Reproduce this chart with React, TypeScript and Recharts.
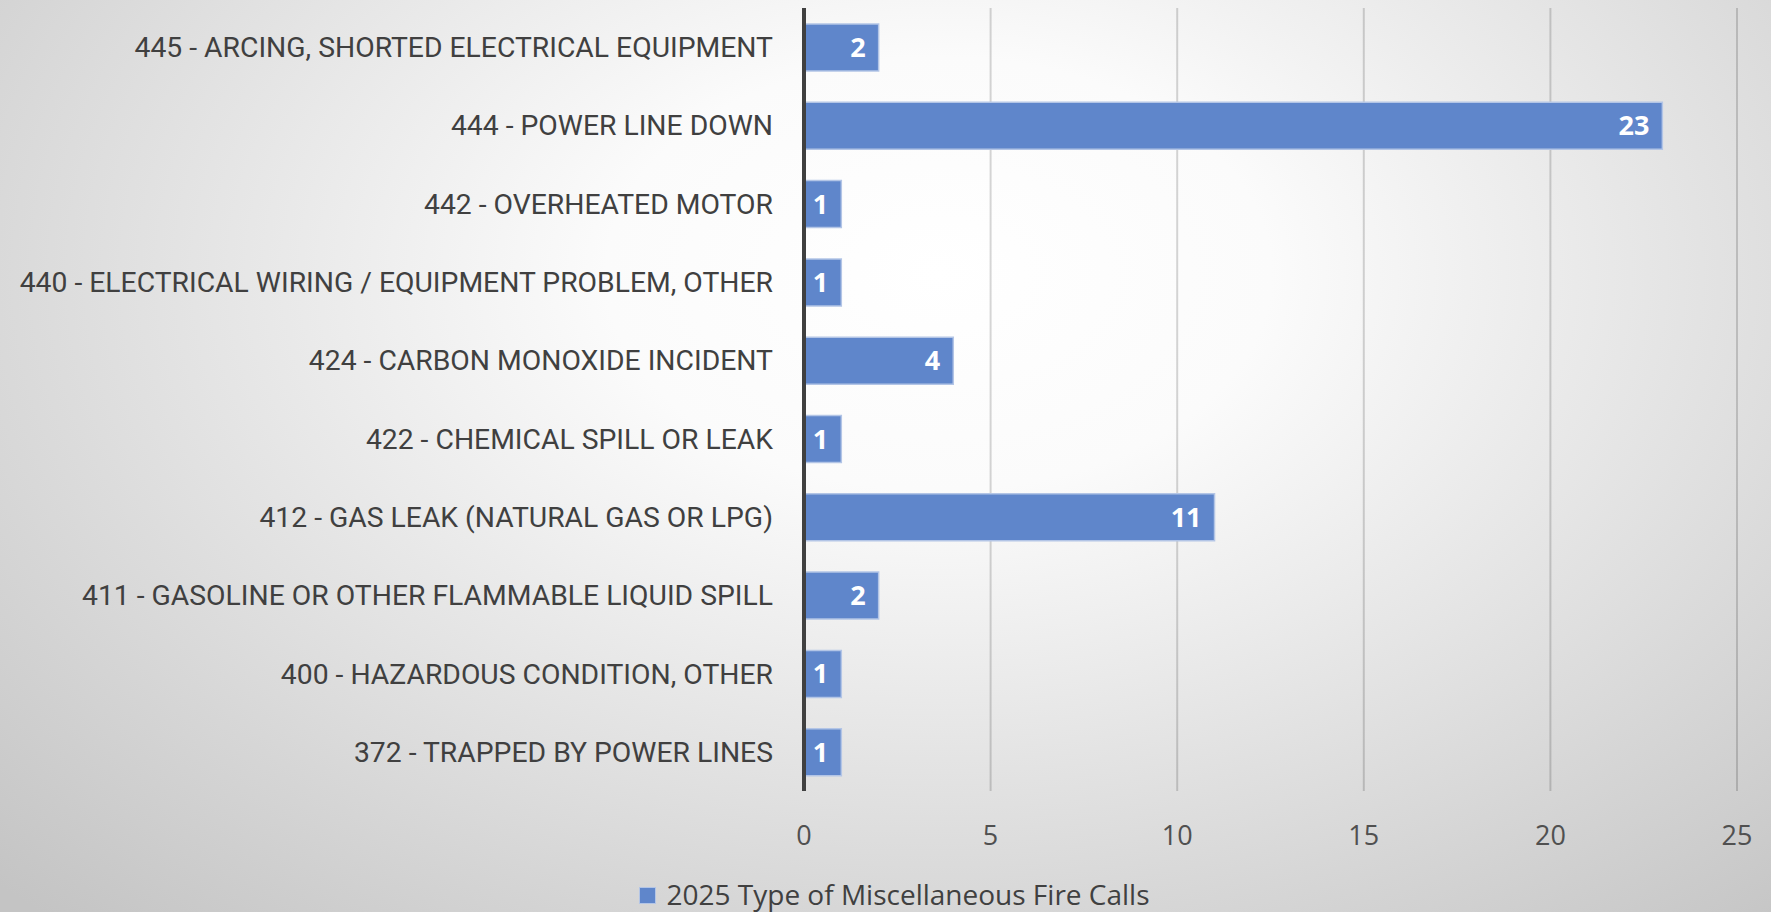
import { BarChart, Bar, XAxis, YAxis, CartesianGrid, LabelList, Legend } from "recharts";

// categories, top to bottom as shown
const CATEGORIES = [
  "445 - ARCING, SHORTED ELECTRICAL EQUIPMENT",
  "444 - POWER LINE DOWN",
  "442 - OVERHEATED MOTOR",
  "440 - ELECTRICAL WIRING / EQUIPMENT PROBLEM, OTHER",
  "424 - CARBON MONOXIDE INCIDENT",
  "422 - CHEMICAL SPILL OR LEAK",
  "412 - GAS LEAK (NATURAL GAS OR LPG)",
  "411 - GASOLINE OR OTHER FLAMMABLE LIQUID SPILL",
  "400 - HAZARDOUS CONDITION, OTHER",
  "372 - TRAPPED BY POWER LINES",
];
const CALLS = [2, 23, 1, 1, 4, 1, 11, 2, 1, 1];
const X_TICKS = [0, 5, 10, 15, 20, 25];
const SERIES_NAME = "2025 Type of Miscellaneous Fire Calls";

const C = {
  bar: "#5f86cb",
  barEdge: "#b3c5e6",
  text: "#404040",
  tick: "#505050",
  grid: "rgba(0,0,0,0.16)",
  axis: "#404040",
};

const W = 1771;
const H = 912;

const data = CATEGORIES.map((name, i) => ({ name, calls: CALLS[i] }));

function LegendBox() {
  return (
    <div
      style={{
        height: 40,
        boxSizing: "border-box",
        paddingTop: 6,
        paddingLeft: 52,
        display: "flex",
        justifyContent: "center",
        alignItems: "center",
        fontFamily: "'Open Sans', sans-serif",
        fontSize: 28,
        lineHeight: 1.2,
        color: C.text,
      }}
    >
      <span style={{ width: 15, height: 15, background: C.bar, border: `1px solid ${C.barEdge}`, marginRight: 10 }} />
      <span>{SERIES_NAME}</span>
    </div>
  );
}

export default function App() {
  return (
    <div
      style={{
        position: "absolute",
        left: 0,
        top: 0,
        width: W,
        height: H,
        overflow: "hidden",
        background:
          "radial-gradient(ellipse 75% 95% at 53% 30%, #ffffff 0%, #fbfbfb 25%, #d6d6d6 75%, #c4c4c4 100%)",
      }}
    >
      <BarChart
        width={W}
        height={H}
        data={data}
        layout="vertical"
        margin={{ top: 8, right: 34, bottom: 0, left: 0 }}
        barSize={47}
      >
        <CartesianGrid horizontal={false} stroke={C.grid} strokeWidth={2} />
        <XAxis
          type="number"
          domain={[0, 25]}
          ticks={X_TICKS}
          axisLine={false}
          tickLine={false}
          tickSize={0}
          tickMargin={35}
          height={81}
          tick={{ fontSize: 27, fill: C.tick, fontFamily: "'Open Sans', sans-serif" }}
        />
        <YAxis
          type="category"
          dataKey="name"
          width={804}
          tickLine={false}
          tickSize={0}
          tickMargin={31}
          axisLine={{ stroke: C.axis, strokeWidth: 4 }}
          tick={{ fontSize: 28.3, fill: C.text, fontFamily: "Roboto, 'Open Sans', sans-serif" }}
          interval={0}
        />
        <Legend verticalAlign="bottom" content={() => <LegendBox />} />
        <Bar dataKey="calls" name={SERIES_NAME} fill={C.bar} stroke={C.barEdge} strokeWidth={1.5} isAnimationActive={false}>
          <LabelList
            dataKey="calls"
            position="insideRight"
            offset={13}
            fill="#ffffff"
            style={{ fontSize: 27, fontWeight: 700, fontFamily: "'Open Sans', sans-serif" }}
          />
        </Bar>
      </BarChart>
    </div>
  );
}
